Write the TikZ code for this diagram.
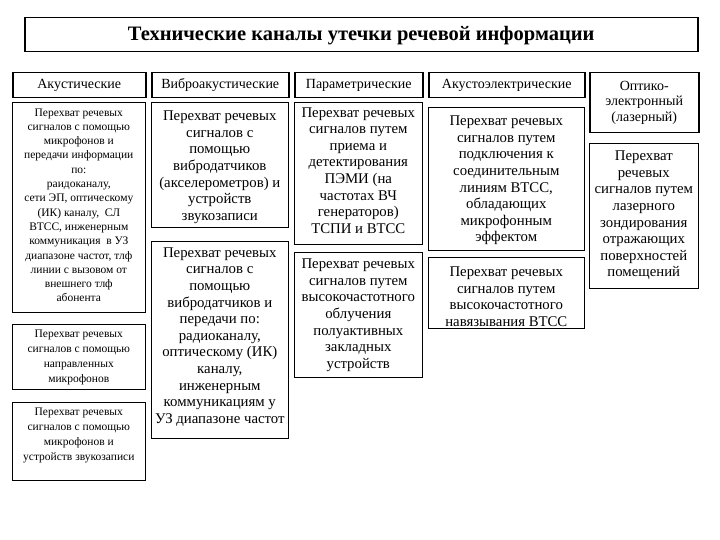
\documentclass[tikz,border=0pt]{standalone}
\usepackage{fontspec}
\setmainfont{Liberation Serif}
\begin{document}
\begin{tikzpicture}[x=1pt,y=-1pt,
  hbox/.style={draw, line width=1.5pt, inner sep=0pt, anchor=north west, align=center},
  bbox/.style={draw, line width=0.6pt, inner sep=0pt, anchor=north west},
  hdr/.style={font=\fontsize{14}{16.6}\selectfont},
  big/.style={font=\fontsize{14.8}{16.6}\selectfont},
  small/.style={font=\fontsize{11.5}{14.3}\selectfont},
  smallb/.style={font=\fontsize{11.5}{14.8}\selectfont},
  txt/.style={align=center, inner sep=0pt, anchor=north}]
\useasboundingbox (0,0) rectangle (720,540);
% title
\node[hbox, minimum width=673, minimum height=34] (title) at (24,17) {};
\node[font=\fontsize{20.5}{23}\selectfont\bfseries] (titlet) at ([yshift=-0.5pt]title.center) {Технические каналы утечки речевой информации};
% headers
\node[hbox, hdr, minimum width=133, minimum height=25] (h1) at (12,72) {Акустические};
\node[hbox, hdr, minimum width=137, minimum height=25] (h2) at (151,72) {Виброакустические};
\node[hbox, hdr, minimum width=128, minimum height=25] (h3) at (294,72) {Параметрические};
\node[hbox, hdr, minimum width=156, minimum height=25] (h4) at (428,72) {Акустоэлектрические};
\node[hbox, font=\fontsize{14}{15.5}\selectfont, minimum width=109, minimum height=60] (h5) at (589,72) {Оптико-\\электронный\\(лазерный)};
% column 1
\node[bbox, minimum width=133, minimum height=210] (a1) at (12,102) {};
\node[txt, small] (a1t) at ([yshift=-3.8pt]a1.north) {\strut Перехват речевых\\сигналов с помощью\\микрофонов и\\передачи информации\\по:\\раидоканалу,\\сети ЭП, оптическому\\(ИК) каналу,\ \ СЛ\\ВТСС, инженерным\\коммуникация\ \ в\ УЗ\\диапазоне частот, тлф\\линии с вызовом от\\внешнего тлф\\абонента};
\node[bbox, minimum width=133, minimum height=65] (a2) at (12,324) {};
\node[txt, smallb] (a2t) at ([yshift=-3.3pt]a2.north) {\strut Перехват речевых\\сигналов с помощью\\направленных\\микрофонов};
\node[bbox, minimum width=133, minimum height=78] (a3) at (12,402) {};
\node[txt, smallb] (a3t) at ([yshift=-3.3pt]a3.north) {\strut Перехват речевых\\сигналов с помощью\\микрофонов и\\устройств звукозаписи};
% column 2
\node[bbox, minimum width=137, minimum height=125] (b1) at (151,102) {};
\node[txt, big] (b1t) at ([yshift=-6.9pt]b1.north) {\strut Перехват речевых\\сигналов с\\помощью\\вибродатчиков\\(акселерометров) и\\устройств\\звукозаписи};
\node[bbox, minimum width=137, minimum height=197] (b2) at (151,241) {};
\node[txt, big] (b2t) at ([yshift=-4.4pt]b2.north) {\strut Перехват речевых\\сигналов с\\помощью\\вибродатчиков и\\передачи по:\\радиоканалу,\\оптическому (ИК)\\каналу,\\инженерным\\коммуникациям у\\УЗ диапазоне частот};
% column 3
\node[bbox, minimum width=128, minimum height=142] (c1) at (294,102) {};
\node[txt, big] (c1t) at ([yshift=-3.2pt]c1.north) {\strut Перехват речевых\\сигналов путем\\приема и\\детектирования\\ПЭМИ (на\\частотах ВЧ\\генераторов)\\ТСПИ и ВТСС};
\node[bbox, minimum width=128, minimum height=125] (c2) at (294,252) {};
\node[txt, big] (c2t) at ([yshift=-4.9pt]c2.north) {\strut Перехват речевых\\сигналов путем\\высокочастотного\\облучения\\полуактивных\\закладных\\устройств};
% column 4
\node[bbox, minimum width=156, minimum height=143] (d1) at (428,107) {};
\node[txt, big] (d1t) at ([yshift=-6.9pt]d1.north) {\strut Перехват речевых\\сигналов путем\\подключения к\\соединительным\\линиям ВТСС,\\обладающих\\микрофонным\\эффектом};
\node[bbox, minimum width=156, minimum height=71] (d2) at (428,257) {};
\node[txt, big] (d2t) at ([yshift=-7.9pt]d2.north) {\strut Перехват речевых\\сигналов путем\\высокочастотного\\навязывания ВТСС};
% column 5
\node[bbox, minimum width=109, minimum height=145] (e1) at (589,143) {};
\node[txt, big] (e1t) at ([yshift=-5.9pt]e1.north) {\strut Перехват\\речевых\\сигналов путем\\лазерного\\зондирования\\отражающих\\поверхностей\\помещений};
\end{tikzpicture}
\end{document}
